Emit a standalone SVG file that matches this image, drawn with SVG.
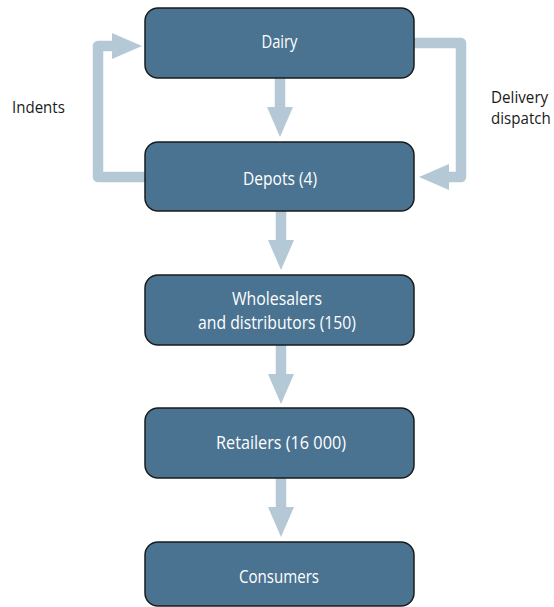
<svg xmlns="http://www.w3.org/2000/svg" width="554" height="607" viewBox="0 0 554 607">
  <style>
    .box { fill: #4a7391; stroke: #1b1b1b; stroke-width: 1.5; }
    .lbl { font-family: "Open Sans", "Noto Sans", sans-serif; font-size: 17.5px; fill: #ffffff; text-anchor: middle; }
    .note { font-family: "Open Sans", "Noto Sans", sans-serif; font-size: 16.5px; fill: #1a1a1a; }
    .flow { fill: none; stroke: #b5c8d5; stroke-width: 10.5; stroke-linejoin: round; }
  </style>
  <defs>
    <marker id="head" markerUnits="userSpaceOnUse" markerWidth="31" markerHeight="27" refX="0" refY="13" orient="auto" overflow="visible">
      <path d="M0,0 L30,13 L0,26 Z" fill="#b5c8d5"/>
    </marker>
  </defs>

  <g id="connectors">
    <path class="flow" d="M280,78 V107" marker-end="url(#head)"/>
    <path class="flow" d="M281,211 V240" marker-end="url(#head)"/>
    <path class="flow" d="M281,345 V374" marker-end="url(#head)"/>
    <path class="flow" d="M281,478 V507" marker-end="url(#head)"/>
    <path class="flow" d="M146,177 H98 V46 H112" marker-end="url(#head)"/>
    <path class="flow" d="M413,43 H461 V177 H449" marker-end="url(#head)"/>
  </g>

  <g id="dairy">
    <rect class="box" x="145" y="8" width="269" height="70" rx="13"/>
    <text class="lbl" x="279.5" y="47.5" textLength="36" lengthAdjust="spacingAndGlyphs">Dairy</text>
  </g>
  <g id="depots">
    <rect class="box" x="145" y="142" width="269" height="69" rx="13"/>
    <text class="lbl" x="280" y="184.5" textLength="74" lengthAdjust="spacingAndGlyphs">Depots (4)</text>
  </g>
  <g id="wholesalers">
    <rect class="box" x="145" y="275" width="269" height="70" rx="13"/>
    <text class="lbl" x="277" y="305" textLength="90" lengthAdjust="spacingAndGlyphs">Wholesalers</text>
    <text class="lbl" x="277" y="329" textLength="158" lengthAdjust="spacingAndGlyphs">and distributors (150)</text>
  </g>
  <g id="retailers">
    <rect class="box" x="145" y="408" width="269" height="70" rx="13"/>
    <text class="lbl" x="281" y="449" textLength="130" lengthAdjust="spacingAndGlyphs">Retailers (16 000)</text>
  </g>
  <g id="consumers">
    <rect class="box" x="145" y="542" width="269" height="64" rx="13"/>
    <text class="lbl" x="279" y="582.5" textLength="80" lengthAdjust="spacingAndGlyphs">Consumers</text>
  </g>

  <g id="labels">
    <text class="note" transform="translate(12,112.5) scale(0.913,1)">Indents</text>
    <text class="note" transform="translate(491,102.5) scale(0.922,1)">Delivery</text>
    <text class="note" transform="translate(491,123.5) scale(0.916,1)">dispatch</text>
  </g>
</svg>
